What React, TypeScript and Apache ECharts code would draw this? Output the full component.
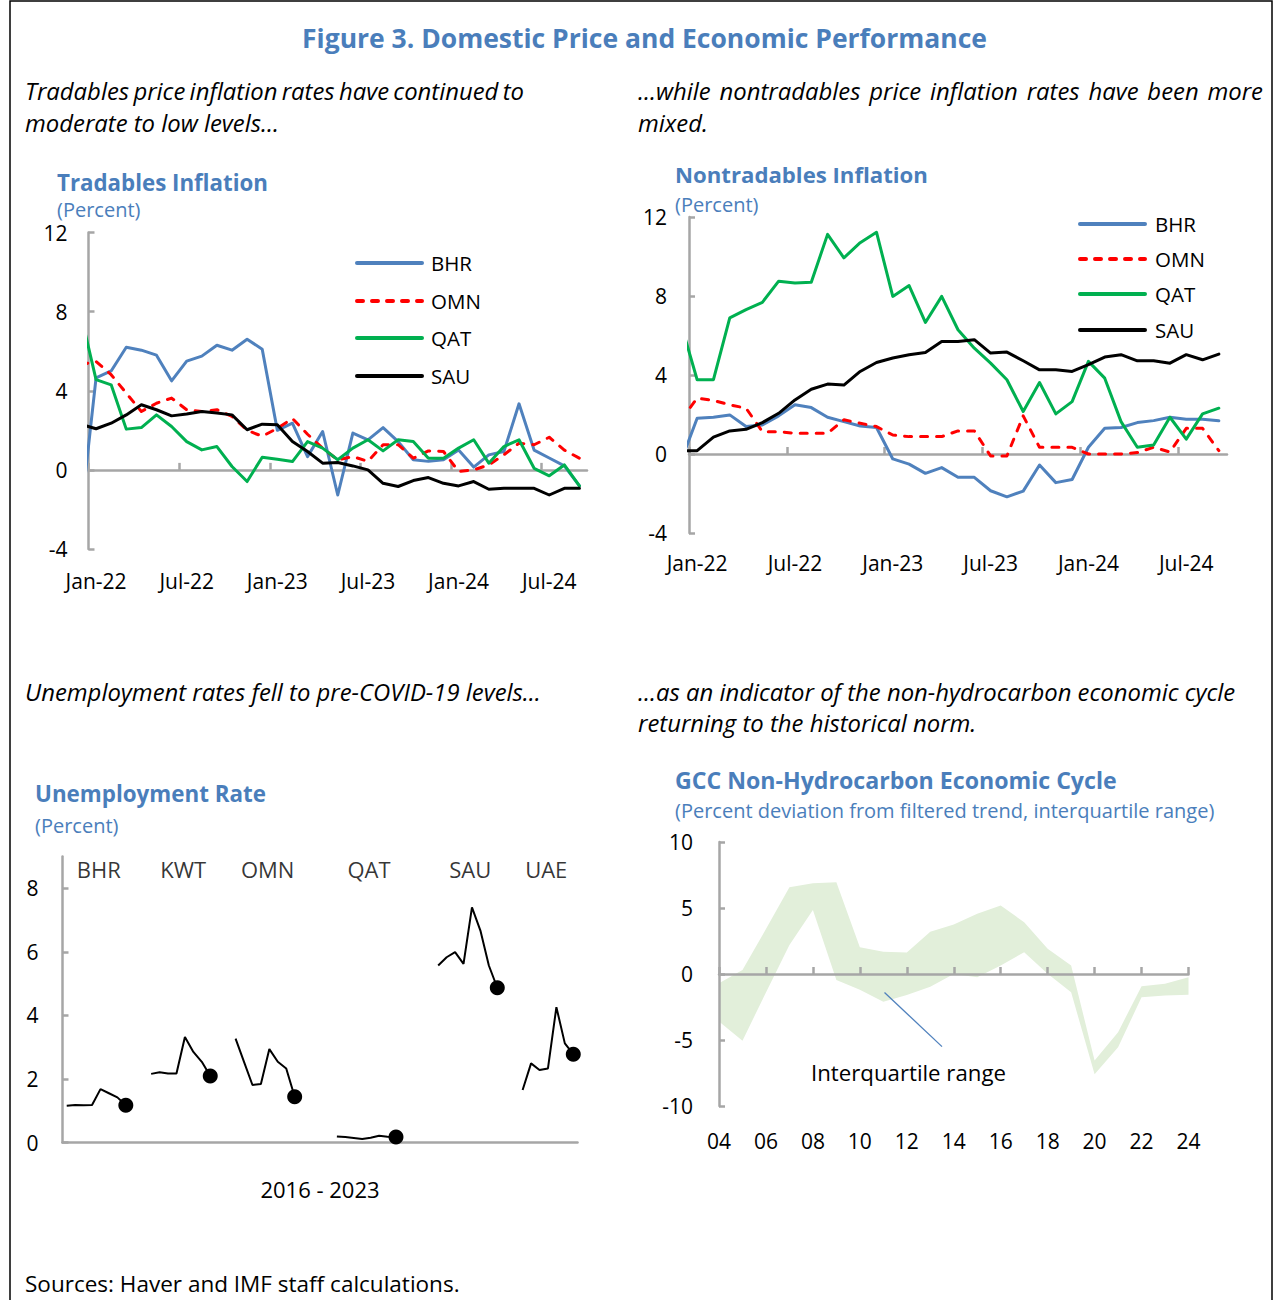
import React, { useEffect, useRef } from 'react';
import * as echarts from 'echarts';

const FONT_NAME = 'Open Sans';
const FONT = '"Open Sans", "Noto Sans", "DejaVu Sans", sans-serif';
const TITLE_BLUE = '#4a7ebb';
const AXIS_GRAY = '#a6a6a6';

// ---------------- Data ----------------
const countryNames = ['BHR', 'OMN', 'QAT', 'SAU'];
const countryColors = ['#4f81bd', '#ff0000', '#00b050', '#000000'];
const monthTickLabels = ['Jan-22', 'Jul-22', 'Jan-23', 'Jul-23', 'Jan-24', 'Jul-24'];

// Monthly, Dec-21 ... Sep-24 (Dec-21 only feeds the clipped segment at the left edge)
const tradBHR = [-2.25, 4.65, 5.0, 6.2, 6.05, 5.8, 4.5, 5.5, 5.75, 6.3, 6.05, 6.6, 6.1, 2.0, 2.36, 0.67, 1.94, -1.27, 1.86, 1.52, 2.14, 1.43, 0.51, 0.43, 0.51, 1.0, 0.14, 0.76, 0.93, 3.34, 1.0, 0.6, 0.2, -0.81];
const tradOMN = [5.32, 5.48, 4.81, 3.88, 2.95, 3.37, 3.63, 3.04, 2.95, 3.04, 2.7, 2.0, 1.7, 2.1, 2.6, 1.8, 1.1, 0.5, 0.67, 0.43, 1.27, 1.27, 0.59, 0.96, 0.93, -0.08, 0.0, 0.25, 0.76, 1.35, 1.27, 1.65, 1.0, 0.59];
const tradQAT = [7.84, 4.56, 4.3, 2.06, 2.14, 2.78, 2.19, 1.43, 1.01, 1.18, 0.17, -0.59, 0.64, 0.54, 0.42, 1.43, 1.1, 0.51, 1.1, 1.52, 0.96, 1.52, 1.43, 0.59, 0.59, 1.1, 1.52, 0.34, 1.18, 1.52, 0.08, -0.3, 0.25, -0.81];
const tradSAU = [2.3, 2.08, 2.36, 2.78, 3.29, 3.04, 2.73, 2.82, 2.95, 2.87, 2.78, 2.03, 2.31, 2.28, 1.43, 0.93, 0.34, 0.37, 0.2, 0.0, -0.68, -0.84, -0.54, -0.39, -0.68, -0.81, -0.59, -0.98, -0.93, -0.93, -0.93, -1.27, -0.93, -0.93];

const nontBHR = [-0.39, 1.81, 1.86, 1.98, 1.39, 1.47, 1.93, 2.49, 2.35, 1.86, 1.64, 1.42, 1.34, -0.25, -0.51, -0.98, -0.69, -1.18, -1.18, -1.86, -2.17, -1.88, -0.56, -1.45, -1.29, 0.34, 1.3, 1.34, 1.59, 1.69, 1.86, 1.76, 1.76, 1.68];
const nontOMN = [1.71, 2.83, 2.71, 2.49, 2.32, 1.13, 1.13, 1.05, 1.05, 1.05, 1.73, 1.56, 1.39, 0.96, 0.88, 0.88, 0.88, 1.17, 1.17, -0.1, -0.1, 1.93, 0.34, 0.34, 0.34, 0.0, 0.0, 0.0, 0.07, 0.34, 0.1, 1.3, 1.3, 0.17];
const nontQAT = [6.62, 3.76, 3.76, 6.89, 7.31, 7.68, 8.75, 8.66, 8.7, 11.12, 9.93, 10.7, 11.23, 7.98, 8.53, 6.66, 7.98, 6.29, 5.36, 4.6, 3.76, 2.15, 3.62, 2.03, 2.65, 4.69, 3.84, 1.64, 0.34, 0.46, 1.86, 0.75, 2.03, 2.32];
const nontSAU = [0.17, 0.17, 0.85, 1.17, 1.25, 1.59, 2.06, 2.74, 3.28, 3.54, 3.49, 4.18, 4.63, 4.86, 5.03, 5.14, 5.7, 5.7, 5.79, 5.11, 5.16, 4.72, 4.26, 4.26, 4.18, 4.52, 4.91, 5.03, 4.72, 4.72, 4.6, 5.03, 4.77, 5.06];

const unempCountries = ['BHR', 'KWT', 'OMN', 'QAT', 'SAU', 'UAE'];
const unempYears = ['2016', '2017', '2018', '2019', '2020', '2021', '2022', '2023'];
const unempBHR = [1.16, 1.18, 1.17, 1.18, 1.68, 1.55, 1.42, 1.17];
const unempKWT = [2.16, 2.21, 2.17, 2.17, 3.32, 2.85, 2.54, 2.09];
const unempOMN = [3.27, 2.54, 1.81, 1.84, 2.94, 2.54, 2.33, 1.44];
const unempQAT = [0.19, 0.17, 0.14, 0.11, 0.15, 0.21, 0.18, 0.17];
const unempSAU = [5.57, 5.83, 5.99, 5.62, 7.4, 6.67, 5.57, 4.87];
const unempUAE = [null, 1.65, 2.49, 2.28, 2.33, 4.26, 3.12, 2.78];

const gccYears = [2004, 2005, 2006, 2007, 2008, 2009, 2010, 2011, 2012, 2013, 2014, 2015, 2016, 2017, 2018, 2019, 2020, 2021, 2022, 2023, 2024];
const gccUpper = [-0.7, 0.3, 3.4, 6.57, 6.87, 6.95, 2.02, 1.69, 1.62, 3.2, 3.75, 4.56, 5.19, 3.92, 1.91, 0.64, -6.55, -4.41, -0.92, -0.74, -0.24];
const gccLower = [-3.6, -5.05, -1.4, 2.2, 4.85, -0.45, -1.2, -2.1, -1.59, -0.96, 0.0, -0.24, 0.64, 1.65, 0.02, -1.38, -7.6, -5.55, -1.76, -1.63, -1.58];

// ---------------- Layout ----------------
const unempGroupStart = [0, 10, 20, 32, 44, 53]; // category slots on the unemployment axis
const UNEMP_SLOTS = 61;
const AXIS_FONT = 21;

// ---------------- Helpers ----------------
let measureCtx: CanvasRenderingContext2D | null = null;
function textWidth(text: string, size: number, weight = 'normal', style = 'normal') {
  if (!measureCtx) measureCtx = document.createElement('canvas').getContext('2d');
  measureCtx!.font = `${style} ${weight} ${size}px "${FONT_NAME}"`;
  return measureCtx!.measureText(text).width;
}
function fitSize(text: string, width: number, weight = 'normal', style = 'normal') {
  return (20 * width) / textWidth(text, 20, weight, style);
}

function txt(text: string, x: number, y: number, size: number, opts: any = {}) {
  return {
    type: 'text',
    x,
    y,
    silent: true,
    style: {
      text,
      fill: opts.fill || '#000',
      fontSize: size,
      fontFamily: FONT,
      fontStyle: opts.style || 'normal',
      fontWeight: opts.weight || 'normal',
      align: opts.align || 'left',
      verticalAlign: 'middle',
    },
  };
}

function justified(line: string, x0: number, x1: number, y: number, size: number, style = 'italic') {
  const words = line.split(' ');
  const widths = words.map((w) => textWidth(w, size, 'normal', style));
  const total = widths.reduce((a, b) => a + b, 0);
  const gap = (x1 - x0 - total) / (words.length - 1);
  let x = x0;
  return words.map((w, i) => {
    const el = txt(w, x, y, size, { style });
    x += widths[i] + gap;
    return el;
  });
}

function legendEls(x0: number, x1: number, rows: number[], textX: number) {
  const out: any[] = [];
  countryNames.forEach((n, i) => {
    out.push({
      type: 'line',
      silent: true,
      shape: { x1: x0 + 2, y1: rows[i], x2: x1 - 2, y2: rows[i] },
      style: {
        stroke: countryColors[i],
        lineWidth: 4,
        lineCap: 'round',
        lineDash: n === 'OMN' ? [6, 9] : null,
      },
    });
    out.push(txt(n, textX, rows[i], 20.5));
  });
  return out;
}

const axisLineStyle = { color: AXIS_GRAY, width: 2.5 };
const labelStyle = { fontSize: AXIS_FONT, color: '#000', fontFamily: FONT };

function zeroAxis(gridIndex: number, min: number, max: number, ticks: number[]) {
  return {
    gridIndex, type: 'value', position: 'bottom', min, max,
    axisLine: { show: true, onZero: true, lineStyle: axisLineStyle },
    axisTick: { show: true, inside: true, length: 7, customValues: ticks, lineStyle: axisLineStyle },
    axisLabel: { show: false },
    splitLine: { show: false },
  };
}
function labelAxis(gridIndex: number, min: number, max: number, vals: number[], fmt: (v: number) => string, margin: number) {
  return {
    gridIndex, type: 'value', position: 'bottom', min, max,
    axisLine: { show: false, onZero: false },
    axisTick: { show: false },
    axisLabel: { show: true, customValues: vals, formatter: fmt, margin, ...labelStyle },
    splitLine: { show: false },
  };
}
function yAxisCfg(gridIndex: number, min: number, max: number, interval: number, margin: number, custom?: number[]) {
  return {
    gridIndex, type: 'value', min, max, interval,
    axisLine: { show: true, onZero: false, lineStyle: axisLineStyle },
    axisTick: { show: true, inside: true, length: 6, lineStyle: axisLineStyle, ...(custom ? { customValues: custom } : {}) },
    axisLabel: { margin, ...labelStyle, ...(custom ? { customValues: custom } : {}) },
    splitLine: { show: false },
  };
}

function inflationSeries(data: number[][], xi: number, yi: number) {
  return countryNames.map((n, i) => ({
    name: n,
    type: 'line',
    xAxisIndex: xi,
    yAxisIndex: yi,
    symbol: 'none',
    clip: true,
    silent: true,
    z: 3,
    data: data[i].map((v, k) => [k - 1, v]),
    lineStyle: { color: countryColors[i], width: 3, type: n === 'OMN' ? [7, 9] : 'solid', cap: 'round', join: 'round' },
    itemStyle: { color: countryColors[i] },
  }));
}

function buildOption() {
  const monthTicks = monthTickLabels.map((_, i) => i * 6 - 0.5);
  const monthLabelVals = monthTickLabels.map((_, i) => i * 6);
  const monthFmt = (v: number) => monthTickLabels[Math.round(v / 6)] || '';
  const gccTicks = gccYears.filter((y) => (y - gccYears[0]) % 2 === 0);

  const unempData = [unempBHR, unempKWT, unempOMN, unempQAT, unempSAU, unempUAE];
  const unempSeries = unempData.map((vals, gi) => {
    const pts = vals
      .map((v, j) => ({ v, j }))
      .filter((d) => d.v != null);
    return {
      name: unempCountries[gi] + ' unemployment',
      type: 'line',
      xAxisIndex: 4,
      yAxisIndex: 2,
      symbol: 'none',
      showSymbol: true,
      silent: true,
      lineStyle: { color: '#000', width: 2 },
      itemStyle: { color: '#000' },
      data: pts.map((d, idx) =>
        idx === pts.length - 1
          ? { value: [unempGroupStart[gi] + d.j, d.v], symbol: 'circle', symbolSize: 15 }
          : [unempGroupStart[gi] + d.j, d.v]
      ),
    };
  });

  const subSize = fitSize('Unemployment rates fell to pre-COVID-19 levels...', 516, 'normal', 'italic');
  const unitSize = fitSize('(Percent deviation from filtered trend, interquartile range)', 540);
  const mainTitleSize = fitSize('Figure 3. Domestic Price and Economic Performance', 685, 'bold');
  const sourceSize = fitSize('Sources: Haver and IMF staff calculations.', 435);
  const iqrSize = fitSize('Interquartile range', 195);
  const chartTitle = (t: string, x: number, y: number, w: number) =>
    txt(t, x, y, fitSize(t, w, 'bold'), { weight: 'bold', fill: TITLE_BLUE });

  const graphic: any[] = [
    { type: 'rect', silent: true, shape: { x: 10, y: 1, width: 1262, height: 1340 }, style: { fill: 'none', stroke: '#000', lineWidth: 1.5 } },
    txt('Figure 3. Domestic Price and Economic Performance', 644.5, 38, mainTitleSize, { weight: 'bold', fill: TITLE_BLUE, align: 'center' }),
    ...justified('Tradables price inflation rates have continued to', 25, 524, 90, subSize),
    txt('moderate to low levels...', 25, 122, subSize, { style: 'italic' }),
    ...justified('...while nontradables price inflation rates have been more', 638, 1263, 90, subSize),
    txt('mixed.', 638, 122, subSize, { style: 'italic' }),
    txt('Unemployment rates fell to pre-COVID-19 levels...', 25, 691, subSize, { style: 'italic' }),
    txt('...as an indicator of the non-hydrocarbon economic cycle', 638, 691, subSize, { style: 'italic' }),
    txt('returning to the historical norm.', 638, 722, subSize, { style: 'italic' }),
    chartTitle('Tradables Inflation', 57, 182, 211),
    txt('(Percent)', 57, 209, unitSize, { fill: TITLE_BLUE }),
    chartTitle('Nontradables Inflation', 675, 174, 253),
    txt('(Percent)', 675, 204, unitSize, { fill: TITLE_BLUE }),
    chartTitle('Unemployment Rate', 35, 793, 231),
    txt('(Percent)', 35, 825, unitSize, { fill: TITLE_BLUE }),
    chartTitle('GCC Non-Hydrocarbon Economic Cycle', 675, 780, 442),
    txt('(Percent deviation from filtered trend, interquartile range)', 675, 810, unitSize, { fill: TITLE_BLUE }),
    txt('Interquartile range', 908.5, 1072, iqrSize, { align: 'center' }),
    txt('Sources: Haver and IMF staff calculations.', 25, 1283, sourceSize),
    ...legendEls(355, 424, [263, 301, 338, 376], 431),
    ...legendEls(1078, 1147, [224, 259, 294, 330], 1155),
  ];

  return {
    animation: false,
    backgroundColor: '#fff',
    textStyle: { fontFamily: FONT },
    grid: [
      { left: 88.5, top: 232.5, width: 498.5, height: 316.5 },
      { left: 689, top: 217, width: 538, height: 316 },
      { left: 62.5, top: 856.5, width: 515, height: 286 },
      { left: 719, top: 842, width: 469.5, height: 264 },
    ],
    xAxis: [
      zeroAxis(0, -0.5, 32.5, monthTicks),
      labelAxis(0, -0.5, 32.5, monthLabelVals, monthFmt, 21),
      zeroAxis(1, -0.5, 32.5, monthTicks),
      labelAxis(1, -0.5, 32.5, monthLabelVals, monthFmt, 19),
      {
        gridIndex: 2, type: 'value', position: 'bottom', min: -0.5, max: UNEMP_SLOTS - 0.5,
        axisLine: { show: true, onZero: true, lineStyle: axisLineStyle },
        axisTick: { show: false },
        axisLabel: { show: false },
        splitLine: { show: false },
        name: unempYears[0] + ' - ' + unempYears[unempYears.length - 1],
        nameLocation: 'middle',
        nameGap: 35,
        nameTextStyle: { ...labelStyle, fontSize: 22 },
      },
      zeroAxis(3, 2004, 2024, gccTicks),
      labelAxis(3, 2004, 2024, gccTicks, (v: number) => String(v).slice(2), 24),
    ],
    yAxis: [
      yAxisCfg(0, -4, 12, 4, 21),
      yAxisCfg(1, -4, 12, 4, 22),
      yAxisCfg(2, 0, 9, 1, 24, [0, 2, 4, 6, 8]),
      yAxisCfg(3, -10, 10, 5, 26),
    ],
    series: [
      ...inflationSeries([tradBHR, tradOMN, tradQAT, tradSAU], 0, 0),
      ...inflationSeries([nontBHR, nontOMN, nontQAT, nontSAU], 2, 1),
      ...unempSeries,
      {
        name: 'unemployment labels',
        type: 'scatter',
        xAxisIndex: 4,
        yAxisIndex: 2,
        symbolSize: 0,
        silent: true,
        data: unempCountries.map((c, i) => ({ name: c, value: [unempGroupStart[i] + 3.8, 8.6] })),
        label: { show: true, position: 'inside', formatter: '{b}', ...labelStyle, fontSize: 22 },
      },
      {
        name: 'Interquartile range',
        type: 'custom',
        xAxisIndex: 5,
        yAxisIndex: 3,
        z: -1,
        silent: true,
        encode: { x: 0, y: [1, 2] },
        data: gccYears.map((y, i) => [y, gccUpper[i], gccLower[i]]),
        renderItem: (params: any, api: any) => {
          if (params.dataIndex !== 0) return null;
          const upper = gccYears.map((y, i) => api.coord([y, gccUpper[i]]));
          const lower = gccYears.map((y, i) => api.coord([y, gccLower[i]])).reverse();
          const a = api.coord([2011.05, -1.4]);
          const b = api.coord([2013.5, -5.5]);
          return {
            type: 'group',
            children: [
              { type: 'polygon', shape: { points: upper.concat(lower) }, style: { fill: '#e2efda' } },
              { type: 'line', shape: { x1: a[0], y1: a[1], x2: b[0], y2: b[1] }, style: { stroke: '#4f81bd', lineWidth: 1.3 } },
            ],
          };
        },
      },
    ],
    graphic,
  };
}

export default function App() {
  const ref = useRef<HTMLDivElement>(null);
  useEffect(() => {
    const prev = document.body.style.margin;
    document.body.style.margin = '0';
    const chart = echarts.init(ref.current as HTMLDivElement, null, { renderer: 'svg', width: 1275, height: 1300 });
    chart.setOption(buildOption() as any);
    return () => {
      chart.dispose();
      document.body.style.margin = prev;
    };
  }, []);
  return <div ref={ref} style={{ width: 1275, height: 1300 }} />;
}
